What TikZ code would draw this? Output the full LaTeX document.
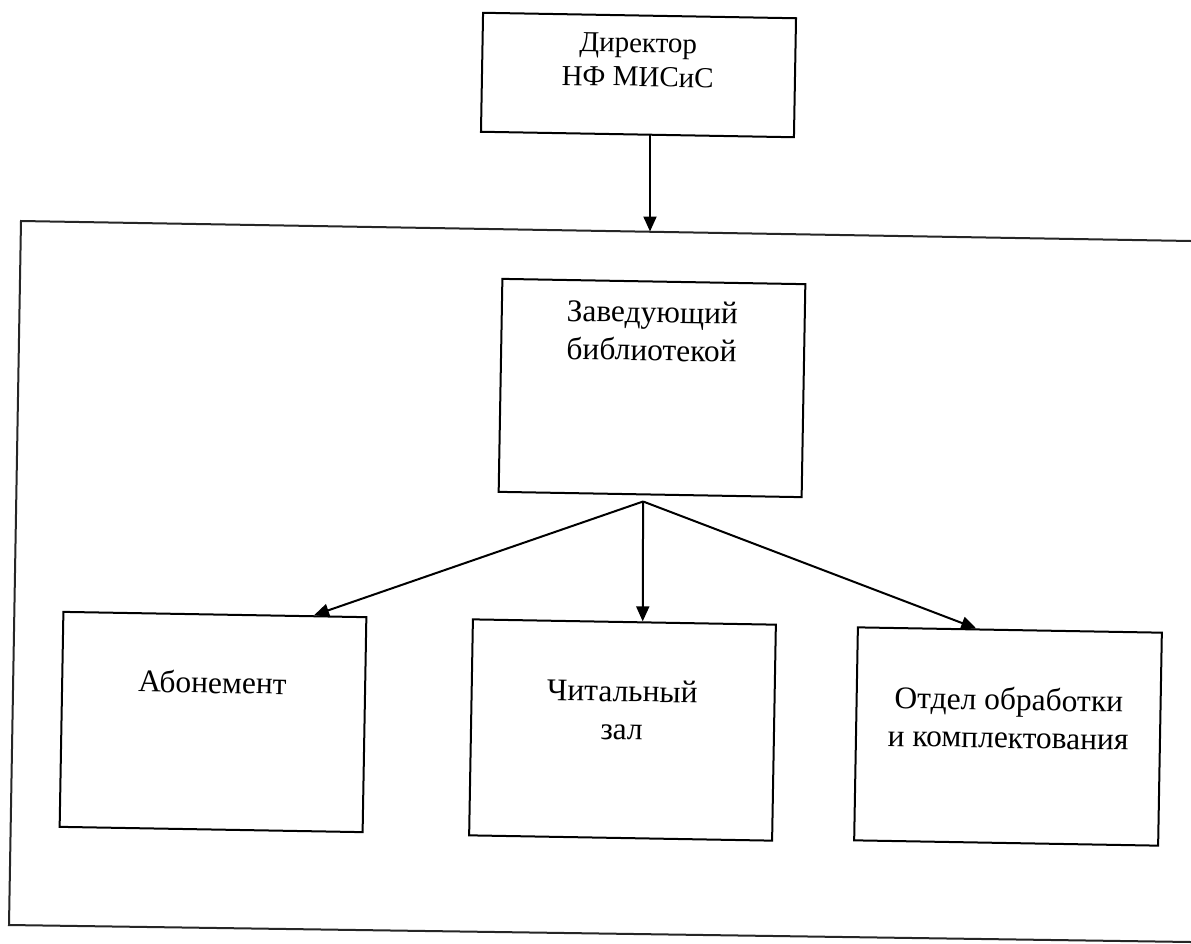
\documentclass[tikz,border=0pt]{standalone}
\usepackage{fontspec}
\setmainfont{Liberation Serif}
\usetikzlibrary{arrows.meta,calc}
\tikzset{
  orgbox/.style={draw=black, line width=2pt, rectangle, inner sep=0pt, fill=none, rotate=-1},
  lbl/.style={align=center, inner sep=0pt, rotate=-1, font=\fontsize{31.5}{38}\selectfont},
  dirlbl/.style={align=center, inner sep=0pt, rotate=-1, font=\fontsize{29}{34}\selectfont},
  arr/.style={draw=black, line width=2pt, -{Triangle[length=15pt,width=13pt]}},
  framel/.style={draw=black!85, line width=2pt}
}
\begin{document}
\begin{tikzpicture}[x=1pt,y=-1pt]
\useasboundingbox[fill=white] (0,0) rectangle (1191,943);
% outer frame
\coordinate (ftr) at (1191,241);
\coordinate (ftl) at (21,221);
\coordinate (fbl) at (9,925);
\coordinate (fbr) at (1191,942);
\draw[framel] (ftr) -- (ftl) -- (fbl) -- (fbr);
% boxes
\node[orgbox, minimum width=313pt, minimum height=119pt] (dir) at (638.5,75) {};
\node[dirlbl] (dirtxt) at (638,60) {Директор\\НФ МИСиС};
\node[orgbox, minimum width=303pt, minimum height=213pt] (head) at (652,388) {};
\node[lbl] (headtxt) at (652,331) {Заведующий\\библиотекой};
\node[orgbox, minimum width=303pt, minimum height=215pt] (abon) at (213,722) {};
\node[lbl] (abontxt) at (212.5,682) {Абонемент};
\node[orgbox, minimum width=303pt, minimum height=216pt] (read) at (622.5,730) {};
\node[lbl] (readtxt) at (622,710) {Читальный\\зал};
\node[orgbox, minimum width=304pt, minimum height=213pt] (dept) at (1008,736.5) {};
\node[lbl] (depttxt) at (1008.5,718) {Отдел обработки\\и комплектования};
% connectors
\coordinate (ftop) at (650,231.5);
\draw[arr] (dir.south -| ftop) -- (ftop);
\coordinate (hub) at ([xshift=-7pt,yshift=-6pt]head.south);
\draw[arr] (hub) -- ($(abon.north west)!0.825!(abon.north east)$);
\draw[arr] (hub) -- ($(read.north west)!0.56!(read.north east)$);
\draw[arr] (hub) -- ($(dept.north west)!0.39!(dept.north east)$);
\end{tikzpicture}
\end{document}
